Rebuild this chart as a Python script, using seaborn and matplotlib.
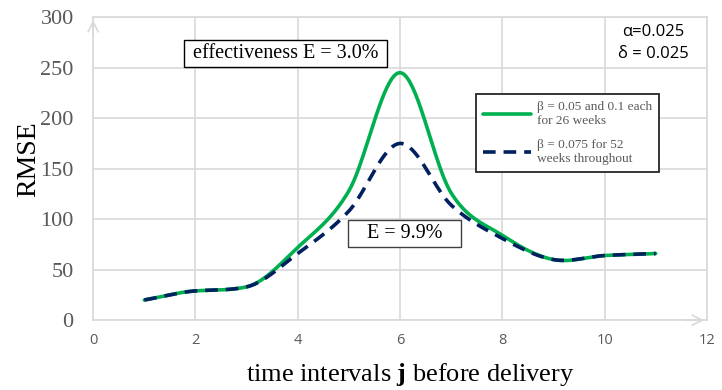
import numpy as np
import pandas as pd
import matplotlib
matplotlib.use("Agg")
import matplotlib.pyplot as plt
import seaborn as sns

# ---- data ----
j_values = [1, 2, 3, 4, 5, 6, 7, 8, 9, 10, 11]
rmse_split = [20, 29, 33, 72, 128, 245, 126, 84, 60, 64, 66]
rmse_const = [20, 29, 33, 66, 108, 175, 114, 81, 60, 64, 66]
label_split = "β = 0.05 and 0.1 each\nfor 26 weeks"
label_const = "β = 0.075 for 52\nweeks throughout"
x_ticks = [0, 2, 4, 6, 8, 10, 12]
y_ticks = [0, 50, 100, 150, 200, 250, 300]


def smooth(xs, ys, n=40):
    """Smoothed line through the data points (Catmull-Rom tangents, overshoot-limited)."""
    xs = np.asarray(xs, float)
    ys = np.asarray(ys, float)
    h = np.diff(xs)
    d = np.diff(ys) / h
    m = np.zeros_like(ys)
    m[0] = d[0]
    m[-1] = d[-1]
    for i in range(1, len(ys) - 1):
        m[i] = (d[i - 1] + d[i]) / 2
    for i in range(len(d)):
        if d[i] == 0:
            continue
        a = m[i] / d[i]
        b = m[i + 1] / d[i]
        if a > 0 and b > 0 and a * a + b * b > 9:
            tau = 3 / np.sqrt(a * a + b * b)
            m[i] = tau * a * d[i]
            m[i + 1] = tau * b * d[i]
    px, py = [], []
    for i in range(len(xs) - 1):
        t = np.linspace(0, 1, n, endpoint=False)
        h00 = 2 * t ** 3 - 3 * t ** 2 + 1
        h10 = t ** 3 - 2 * t ** 2 + t
        h01 = -2 * t ** 3 + 3 * t ** 2
        h11 = t ** 3 - t ** 2
        px.append(xs[i] + t * h[i])
        py.append(h00 * ys[i] + h10 * h[i] * m[i] + h01 * ys[i + 1] + h11 * h[i] * m[i + 1])
    px.append([xs[-1]])
    py.append([ys[-1]])
    return np.concatenate(px), np.concatenate(py)


sx1, sy1 = smooth(j_values, rmse_split)
sx2, sy2 = smooth(j_values, rmse_const)
df1 = pd.DataFrame({"j": sx1, "rmse": sy1})
df2 = pd.DataFrame({"j": sx2, "rmse": sy2})

sns.set_theme(style="white")
plt.rcParams["font.family"] = ["DejaVu Sans"]
plt.rcParams["mathtext.fontset"] = "custom"
plt.rcParams["mathtext.rm"] = "Liberation Serif"
plt.rcParams["mathtext.bf"] = "Liberation Serif:bold"

fig = plt.figure(figsize=(7.22, 3.90), dpi=100)
ax = fig.add_axes([0.129, 0.179, 0.850, 0.777])

green = "#00B050"
navy = "#002060"
grid_c = "#D9D9D9"
text_c = "#595959"

sns.lineplot(data=df1, x="j", y="rmse", sort=False, ax=ax, color=green,
             linewidth=2.6, label=label_split, estimator=None)
sns.lineplot(data=df2, x="j", y="rmse", sort=False, ax=ax, color=navy,
             linewidth=2.6, label=label_const, estimator=None)
ax.lines[1].set_dashes((3.5, 2.2))

ax.set_xlim(0, 12)
ax.set_ylim(0, 300)
ax.set_xticks(x_ticks)
ax.set_yticks(y_ticks)
ax.grid(True, color=grid_c, linewidth=1.2)
ax.set_axisbelow(True)
for s in ax.spines.values():
    s.set_color(grid_c)
    s.set_linewidth(1.2)
ax.tick_params(length=0)
ax.tick_params(axis="y", pad=14)
ax.tick_params(axis="x", pad=9)
for lab in ax.get_yticklabels():
    lab.set_fontfamily("Liberation Serif")
    lab.set_fontsize(16)
    lab.set_color(text_c)
for lab in ax.get_xticklabels():
    lab.set_fontfamily("Open Sans")
    lab.set_fontsize(10.5)
    lab.set_color(text_c)

# axis arrows
ax.annotate("", xy=(0, 1.0), xytext=(0, 0.93), xycoords="axes fraction",
            arrowprops=dict(arrowstyle="->", color=grid_c, lw=1.2, mutation_scale=18))
ax.annotate("", xy=(1.0, 0), xytext=(0.96, 0), xycoords="axes fraction",
            arrowprops=dict(arrowstyle="->", color=grid_c, lw=1.2, mutation_scale=18))

ax.set_ylabel("RMSE", fontfamily="Liberation Serif", fontsize=20, color="black")
ax.yaxis.set_label_coords(-0.085, 0.53)
ax.set_xlabel("time intervals $\\mathbf{j}$ before delivery", fontfamily="Liberation Serif",
              fontsize=19, color="black")
ax.xaxis.set_label_coords(0.516, -0.135)

ax.text(3.76, 264, " effectiveness E = 3.0% ", ha="center", va="center",
        fontfamily="Liberation Serif", fontsize=14.5, color="black",
        bbox=dict(boxstyle="square,pad=0.2", fc="white", ec="black", lw=1))
ax.text(6.09, 86, "   E = 9.9%   ", ha="center", va="center",
        fontfamily="Liberation Serif", fontsize=14.5, color="black",
        bbox=dict(boxstyle="square,pad=0.2", fc="white", ec="#404040", lw=1))

fig.text(0.905, 0.89, "α=0.025\nδ = 0.025", ha="center", va="center",
         fontfamily="Open Sans", fontsize=12, color="black", linespacing=1.55)

leg = ax.legend(loc="upper left", bbox_to_anchor=(0.624, 0.746), frameon=True,
                fancybox=False, edgecolor="#262626", framealpha=1,
                prop={"family": "Liberation Serif", "size": 9.6},
                handlelength=3.6, labelspacing=0.9, borderpad=0.55, handletextpad=0.4,
                borderaxespad=0)
leg.get_frame().set_linewidth(1.3)
for t in leg.get_texts():
    t.set_color(text_c)

fig.savefig("out.png", dpi=100)
